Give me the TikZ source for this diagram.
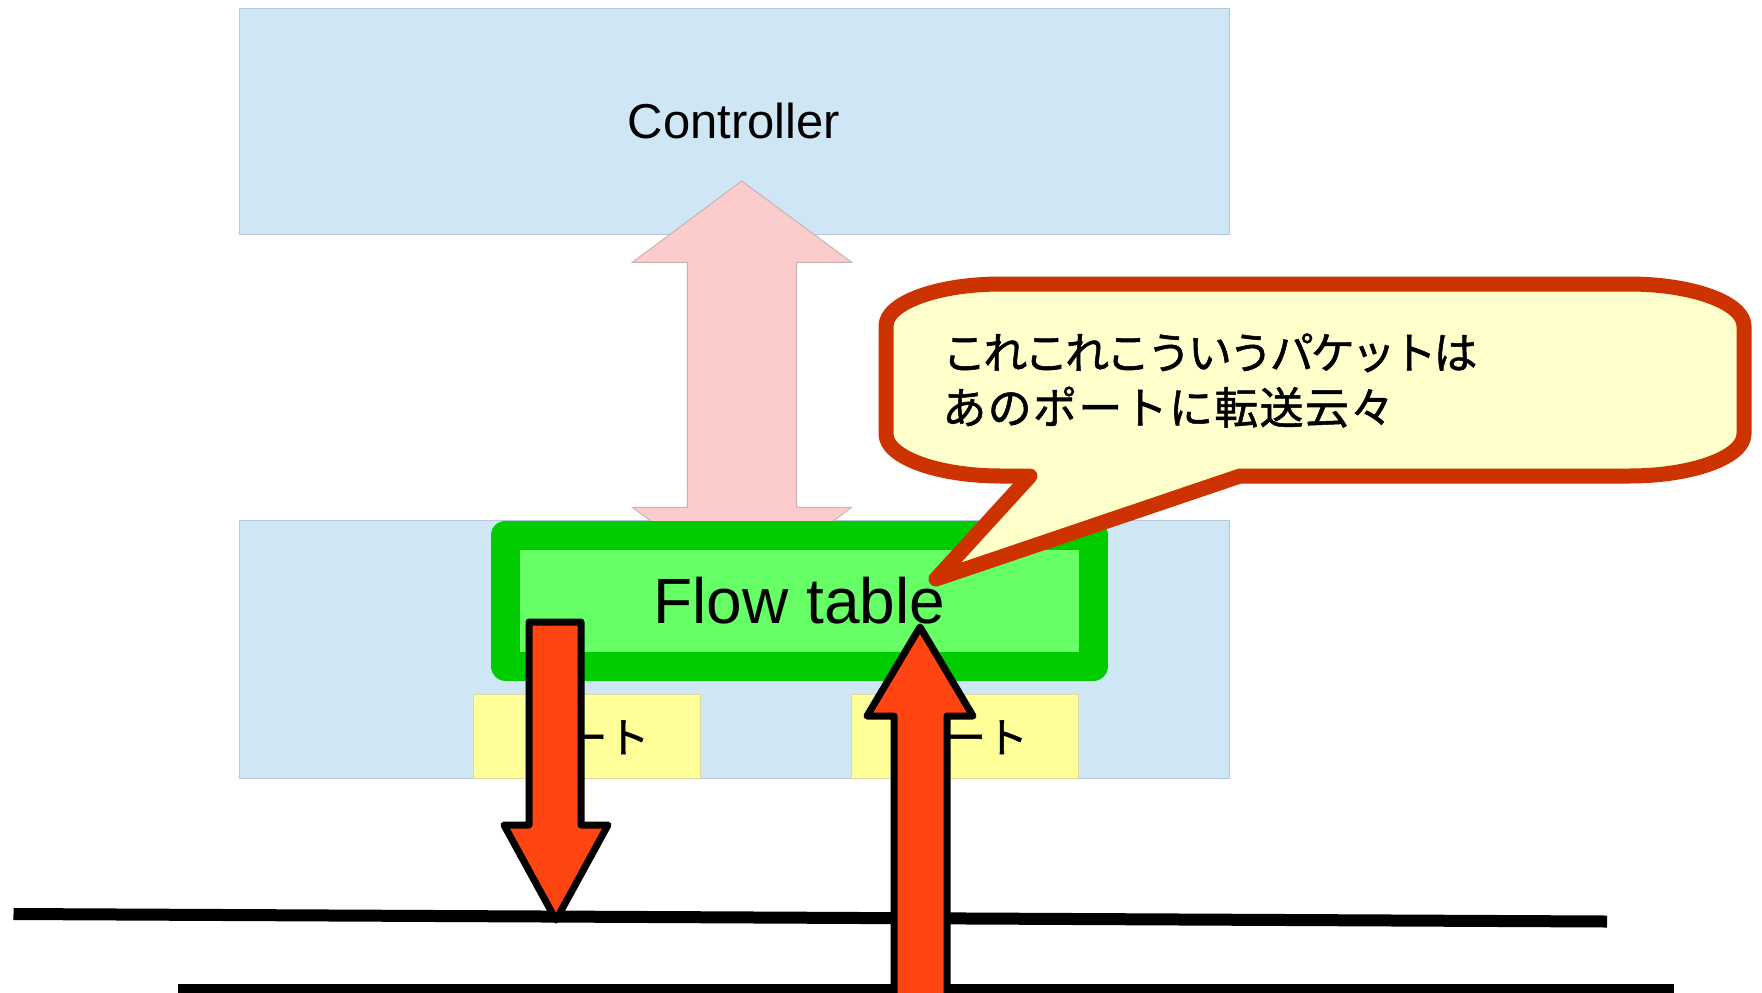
\documentclass[tikz,border=0pt]{standalone}
\usepackage{fontspec}
\setmainfont{Liberation Sans}
\newfontfamily\jpfont[RawFeature={embolden=1.2}]{Noto Sans CJK JP}
\definecolor{lightblue}{HTML}{CFE7F5}
\definecolor{blueedge}{HTML}{B4C7DC}
\definecolor{portyellow}{HTML}{FFFF99}
\definecolor{portedge}{HTML}{E2D8A2}
\definecolor{pinkfill}{HTML}{FCCBCB}
\definecolor{pinkedge}{HTML}{C8B4B4}
\definecolor{darkgreen}{HTML}{00CC00}
\definecolor{lightgreen}{HTML}{66FF66}
\definecolor{redfill}{HTML}{FF4511}
\definecolor{calloutedge}{HTML}{CC3300}
\definecolor{calloutfill}{HTML}{FFFFCC}
\begin{document}
\begin{tikzpicture}[x=0.5pt,y=-0.5pt,
  bluebox/.style={draw=blueedge, fill=lightblue, line width=0.5pt, inner sep=0pt,
    minimum width=495pt},
  portbox/.style={draw=portedge, fill=portyellow, line width=0.5pt, inner sep=0pt,
    minimum width=113.5pt, minimum height=42pt,
    font={\jpfont\fontsize{21pt}{25pt}\selectfont}},
  flowbox/.style={draw=darkgreen, fill=lightgreen, line width=14.5pt, line join=round,
    inner sep=0pt, minimum width=294pt, minimum height=65.5pt,
    font={\fontsize{32pt}{38pt}\selectfont}},
  pinkarrow/.style={fill=pinkfill, draw=pinkedge, line width=0.5pt},
  redarrow/.style={fill=redfill, draw=black, line width=3.5pt, line join=round},
  callout/.style={fill=calloutfill, draw=calloutedge, line width=7.5pt, line join=round},
  netline/.style={draw=black, line width=6pt},
  labeltext/.style={inner sep=0pt}]
\useasboundingbox (0,0) rectangle (1762,992);
\clip (0,0) rectangle (1762,992);
\fill[white] (0,0) rectangle (1762,992);
% controller
\node[bluebox, minimum height=113pt] (ctrl) at (734,121) {};
\node[labeltext, font={\fontsize{24.5pt}{29pt}\selectfont}] (ctrltext) at (734,121) {Controller};
% switch
\node[bluebox, minimum height=129pt] (switch) at (734,649) {};
\node[portbox] (portL) at (586.5,736) {ポート};
\node[portbox] (portR) at (965,736) {ポート};
% pink double arrow
\draw[pinkarrow] (741.7,181) -- (851.7,262.3) -- (796.7,262.3) -- (796.7,507.3)
  -- (851.7,507.3) -- (741.7,589) -- (632.3,507.3) -- (687.3,507.3)
  -- (687.3,262.3) -- (632.3,262.3) -- cycle;
% flow table
\node[flowbox] (flow) at (799.5,600.5) {Flow table};
% callout
\draw[callout] (1030,476) -- (936,579) -- (1240,476) -- (1629,476)
  .. controls (1692.5,476) and (1744,457.2) .. (1744,434)
  -- (1744,326)
  .. controls (1744,302.8) and (1692.5,284) .. (1629,284)
  -- (1001,284)
  .. controls (937.5,284) and (886,302.8) .. (886,326)
  -- (886,434)
  .. controls (886,457.2) and (937.5,476) .. (1001,476) -- cycle;
\node[labeltext, anchor=west, align=left,
  font={\jpfont\fontsize{22pt}{27.5pt}\selectfont}] (msg) at (942,380.5)
  {{\addfontfeature{LetterSpace=-7}これこれこういうパケットは}\\
   {\addfontfeature{LetterSpace=3}あのポートに転送云々}};
% network lines
\draw[netline] (13.5,914) -- (1607,921.5);
\draw[netline] (177.5,990) -- (1674,990);
% red arrows
\draw[redarrow] (529,622) -- (581,622) -- (581,825) -- (608,825) -- (556,920)
  -- (504,825) -- (529,825) -- cycle;
\draw[redarrow] (920,627) -- (973,716) -- (947,716) -- (947,1010) -- (894,1010)
  -- (894,716) -- (867,716) -- cycle;
\end{tikzpicture}
\end{document}
